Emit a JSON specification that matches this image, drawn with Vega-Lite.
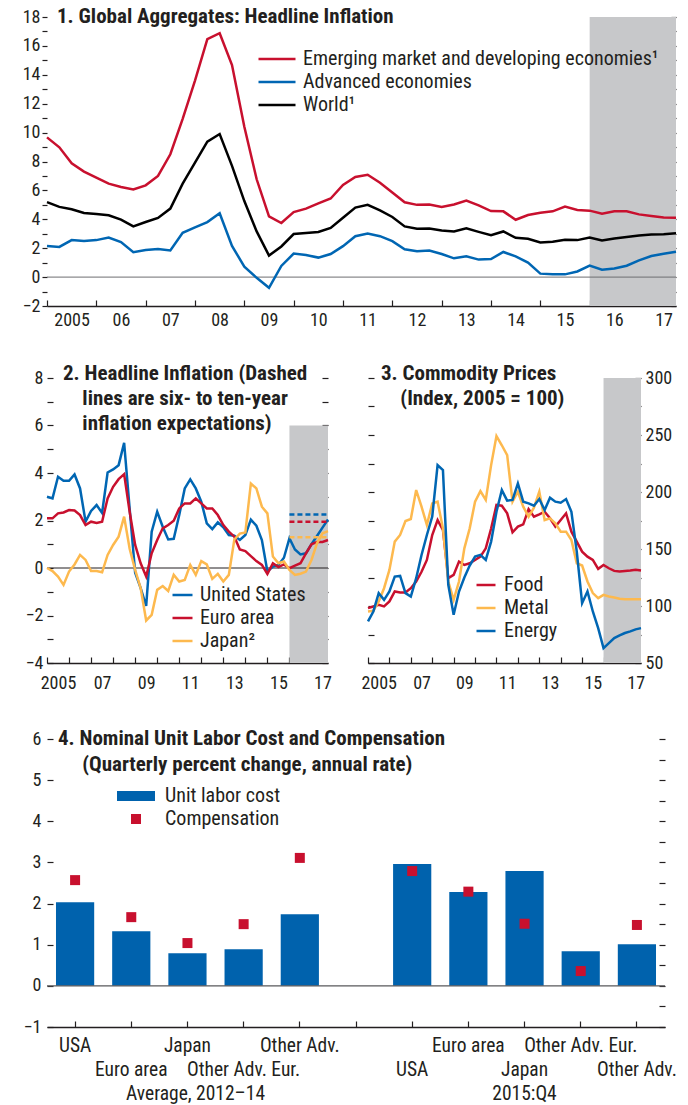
{
  "$schema": "https://vega.github.io/schema/vega-lite/v6.json",
  "padding": {"left": 22, "top": 6, "right": 5, "bottom": 5},
  "config": {
    "font": "Liberation Sans Narrow, Roboto Condensed, DejaVu Sans Condensed, sans-serif",
    "view": {"stroke": null},
    "axis": {"labelFontSize": 18, "labelColor": "#231f20", "tickColor": "#231f20", "domainColor": "#231f20", "grid": false, "tickWidth": 1.2, "labelFont": "Liberation Sans Narrow, Roboto Condensed, DejaVu Sans Condensed, sans-serif"},
    "legend": {"labelFontSize": 20, "labelColor": "#231f20", "labelLimit": 600, "labelFont": "Liberation Sans Narrow, Roboto Condensed, DejaVu Sans Condensed, sans-serif"},
    "title": {"fontSize": 21, "fontWeight": "bold", "color": "#231f20", "anchor": "start", "frame": "group", "baseline": "top", "font": "Liberation Sans Narrow, Roboto Condensed, DejaVu Sans Condensed, sans-serif"}
  },
  "datasets": {
    "p1": [
      {"t":2005,"EM":9.67,"AE":2.16,"W":5.19},{"t":2005.25,"EM":8.98,"AE":2.09,"W":4.86},{"t":2005.5,"EM":7.88,"AE":2.56,"W":4.7},{"t":2005.75,"EM":7.3,"AE":2.49,"W":4.44},
      {"t":2006,"EM":6.88,"AE":2.56,"W":4.37},{"t":2006.25,"EM":6.47,"AE":2.74,"W":4.28},{"t":2006.5,"EM":6.23,"AE":2.42,"W":3.98},{"t":2006.75,"EM":6.07,"AE":1.72,"W":3.51},
      {"t":2007,"EM":6.35,"AE":1.88,"W":3.81},{"t":2007.25,"EM":7.0,"AE":1.95,"W":4.09},{"t":2007.5,"EM":8.5,"AE":1.84,"W":4.74},{"t":2007.75,"EM":10.95,"AE":3.07,"W":6.47},
      {"t":2008,"EM":13.6,"AE":3.44,"W":7.93},{"t":2008.25,"EM":16.47,"AE":3.81,"W":9.37},{"t":2008.5,"EM":16.88,"AE":4.42,"W":9.9},{"t":2008.75,"EM":14.67,"AE":2.16,"W":7.7},
      {"t":2009,"EM":10.4,"AE":0.72,"W":5.26},{"t":2009.25,"EM":6.77,"AE":-0.05,"W":3.16},{"t":2009.5,"EM":4.2,"AE":-0.74,"W":1.49},{"t":2009.75,"EM":3.74,"AE":0.77,"W":2.12},
      {"t":2010,"EM":4.5,"AE":1.63,"W":2.98},{"t":2010.25,"EM":4.74,"AE":1.53,"W":3.05},{"t":2010.5,"EM":5.1,"AE":1.35,"W":3.12},{"t":2010.75,"EM":5.44,"AE":1.6,"W":3.4},
      {"t":2011,"EM":6.38,"AE":2.14,"W":4.11},{"t":2011.25,"EM":6.93,"AE":2.83,"W":4.81},{"t":2011.5,"EM":7.08,"AE":3.02,"W":5.0},{"t":2011.75,"EM":6.53,"AE":2.83,"W":4.62},
      {"t":2012,"EM":5.85,"AE":2.49,"W":4.16},{"t":2012.25,"EM":5.18,"AE":1.93,"W":3.51},{"t":2012.5,"EM":5.0,"AE":1.79,"W":3.35},{"t":2012.75,"EM":5.02,"AE":1.84,"W":3.37},
      {"t":2013,"EM":4.86,"AE":1.6,"W":3.23},{"t":2013.25,"EM":5.03,"AE":1.3,"W":3.16},{"t":2013.5,"EM":5.3,"AE":1.44,"W":3.37},{"t":2013.75,"EM":4.97,"AE":1.21,"W":3.13},
      {"t":2014,"EM":4.57,"AE":1.25,"W":2.9},{"t":2014.25,"EM":4.55,"AE":1.74,"W":3.16},{"t":2014.5,"EM":3.97,"AE":1.44,"W":2.72},{"t":2014.75,"EM":4.3,"AE":1.0,"W":2.65},
      {"t":2015,"EM":4.46,"AE":0.24,"W":2.39},{"t":2015.25,"EM":4.55,"AE":0.19,"W":2.44},{"t":2015.5,"EM":4.88,"AE":0.19,"W":2.58},{"t":2015.75,"EM":4.65,"AE":0.39,"W":2.56},
      {"t":2016,"EM":4.6,"AE":0.79,"W":2.74},{"t":2016.25,"EM":4.39,"AE":0.51,"W":2.53},{"t":2016.5,"EM":4.55,"AE":0.6,"W":2.67},{"t":2016.75,"EM":4.55,"AE":0.79,"W":2.78},
      {"t":2017,"EM":4.34,"AE":1.16,"W":2.88},{"t":2017.25,"EM":4.23,"AE":1.46,"W":2.95},{"t":2017.5,"EM":4.13,"AE":1.62,"W":2.97},{"t":2017.75,"EM":4.1,"AE":1.76,"W":3.03}
    ],
    "p2": [
      {"t":2005,"US":3.0,"EA":2.09,"JP":0.0},{"t":2005.25,"US":2.93,"EA":2.09,"JP":-0.13},{"t":2005.5,"US":3.84,"EA":2.3,"JP":-0.36},{"t":2005.75,"US":3.67,"EA":2.34,"JP":-0.71},
      {"t":2006,"US":3.67,"EA":2.44,"JP":-0.15},{"t":2006.25,"US":3.94,"EA":2.42,"JP":0.15},{"t":2006.5,"US":3.35,"EA":2.23,"JP":0.55},{"t":2006.75,"US":1.95,"EA":1.81,"JP":0.34},
      {"t":2007,"US":2.4,"EA":1.95,"JP":-0.13},{"t":2007.25,"US":2.65,"EA":1.9,"JP":-0.13},{"t":2007.5,"US":2.32,"EA":1.95,"JP":-0.18},{"t":2007.75,"US":4.02,"EA":2.93,"JP":0.55},
      {"t":2008,"US":4.15,"EA":3.42,"JP":0.97},{"t":2008.25,"US":4.33,"EA":3.74,"JP":1.32},{"t":2008.5,"US":5.27,"EA":3.95,"JP":2.16},{"t":2008.75,"US":2.5,"EA":2.37,"JP":0.81},
      {"t":2009,"US":-0.2,"EA":0.97,"JP":-0.08},{"t":2009.25,"US":-0.85,"EA":0.2,"JP":-0.85},{"t":2009.5,"US":-1.6,"EA":-0.36,"JP":-2.21},{"t":2009.75,"US":1.53,"EA":0.62,"JP":-1.97},
      {"t":2010,"US":2.37,"EA":1.18,"JP":-0.92},{"t":2010.25,"US":1.74,"EA":1.67,"JP":-0.76},{"t":2010.5,"US":1.2,"EA":1.81,"JP":-0.97},{"t":2010.75,"US":1.23,"EA":1.99,"JP":-0.29},
      {"t":2011,"US":2.23,"EA":2.51,"JP":-0.57},{"t":2011.25,"US":3.35,"EA":2.72,"JP":-0.5},{"t":2011.5,"US":3.73,"EA":2.72,"JP":0.13},{"t":2011.75,"US":3.35,"EA":2.93,"JP":-0.29},
      {"t":2012,"US":2.79,"EA":2.72,"JP":0.29},{"t":2012.25,"US":1.88,"EA":2.51,"JP":0.15},{"t":2012.5,"US":1.64,"EA":2.51,"JP":-0.46},{"t":2012.75,"US":1.92,"EA":2.23,"JP":-0.25},
      {"t":2013,"US":1.71,"EA":1.81,"JP":-0.57},{"t":2013.25,"US":1.39,"EA":1.53,"JP":-0.29},{"t":2013.5,"US":1.36,"EA":1.32,"JP":1.2},{"t":2013.75,"US":1.18,"EA":0.78,"JP":1.45},
      {"t":2014,"US":1.39,"EA":0.71,"JP":1.5},{"t":2014.25,"US":2.04,"EA":0.5,"JP":3.56},{"t":2014.5,"US":1.78,"EA":0.29,"JP":3.35},{"t":2014.75,"US":1.18,"EA":0.13,"JP":2.58},
      {"t":2015,"US":-0.15,"EA":-0.25,"JP":2.3},{"t":2015.25,"US":0.06,"EA":0.2,"JP":0.48},{"t":2015.5,"US":0.13,"EA":0.04,"JP":0.2},{"t":2015.75,"US":0.43,"EA":0.15,"JP":0.27},
      {"t":2016,"US":1.25,"EA":-0.01,"JP":-0.08},{"t":2016.25,"US":0.78,"EA":0.1,"JP":-0.29},{"t":2016.5,"US":0.57,"EA":0.2,"JP":-0.24},{"t":2016.75,"US":0.62,"EA":0.62,"JP":-0.15},
      {"t":2017,"US":1.0,"EA":1.0,"JP":0.34},{"t":2017.25,"US":1.35,"EA":1.1,"JP":1.04},{"t":2017.5,"US":1.7,"EA":1.1,"JP":1.46},{"t":2017.75,"US":2.04,"EA":1.18,"JP":1.55}
    ],
    "p2e": [
      {"s":"US","e":2.25},{"s":"EA","e":1.95},{"s":"JP","e":1.29}
    ],
    "p3": [
      {"t":2005,"Food":98.1,"Metal":95.2,"Energy":86.5},{"t":2005.25,"Food":99.6,"Metal":95.8,"Energy":95.2},{"t":2005.5,"Food":101,"Metal":104,"Energy":111.3},{"t":2005.75,"Food":99.6,"Metal":115.6,"Energy":105.4},
      {"t":2006,"Food":104,"Metal":131.7,"Energy":112.7},{"t":2006.25,"Food":112.7,"Metal":156.5,"Energy":125.8},{"t":2006.5,"Food":111.8,"Metal":162.3,"Energy":126.4},{"t":2006.75,"Food":111.8,"Metal":174.6,"Energy":111.3},
      {"t":2007,"Food":115.6,"Metal":176.3,"Energy":108.3},{"t":2007.25,"Food":121.5,"Metal":201.7,"Energy":124.4},{"t":2007.5,"Food":130,"Metal":187.1,"Energy":144.8},{"t":2007.75,"Food":140.4,"Metal":171.1,"Energy":162.3},
      {"t":2008,"Food":162.3,"Metal":190,"Energy":178.4},{"t":2008.25,"Food":175.4,"Metal":191.5,"Energy":223.6},{"t":2008.5,"Food":166.7,"Metal":168.1,"Energy":219.2},{"t":2008.75,"Food":124.4,"Metal":121.5,"Energy":118.6},
      {"t":2009,"Food":127.3,"Metal":105.4,"Energy":92.3},{"t":2009.25,"Food":139,"Metal":121.5,"Energy":112.7},{"t":2009.5,"Food":136,"Metal":150.6,"Energy":125},{"t":2009.75,"Food":137.5,"Metal":168.1,"Energy":135.5},
      {"t":2010,"Food":140.4,"Metal":191.5,"Energy":143.3},{"t":2010.25,"Food":143.3,"Metal":200.8,"Energy":144.8},{"t":2010.5,"Food":150.6,"Metal":193,"Energy":140.4},{"t":2010.75,"Food":168,"Metal":223.6,"Energy":156.5},
      {"t":2011,"Food":188.6,"Metal":249,"Energy":182.7},{"t":2011.25,"Food":188,"Metal":241,"Energy":201.7},{"t":2011.5,"Food":181.3,"Metal":232.3,"Energy":192.4},{"t":2011.75,"Food":164.6,"Metal":191.5,"Energy":193},
      {"t":2012,"Food":169.6,"Metal":200.2,"Energy":207.5},{"t":2012.25,"Food":171.6,"Metal":187.1,"Energy":191.5},{"t":2012.5,"Food":185,"Metal":178.4,"Energy":190},{"t":2012.75,"Food":178.4,"Metal":186.2,"Energy":188},
      {"t":2013,"Food":180.4,"Metal":200.2,"Energy":193.8},{"t":2013.25,"Food":182.7,"Metal":175.4,"Energy":184.2},{"t":2013.5,"Food":176.9,"Metal":176.9,"Energy":195},{"t":2013.75,"Food":169.6,"Metal":172.5,"Energy":191.5},
      {"t":2014,"Food":175.4,"Metal":165.2,"Energy":190.6},{"t":2014.25,"Food":181.3,"Metal":165.2,"Energy":193.8},{"t":2014.5,"Food":165.2,"Metal":157.9,"Energy":182.7},{"t":2014.75,"Food":156.5,"Metal":137.5,"Energy":147.7},
      {"t":2015,"Food":147.7,"Metal":135.5,"Energy":102.5},{"t":2015.25,"Food":143.3,"Metal":121.5,"Energy":112.7},{"t":2015.5,"Food":140.4,"Metal":111.3,"Energy":95.2},{"t":2015.75,"Food":132.6,"Metal":106.9,"Energy":80.6},
      {"t":2016,"Food":136,"Metal":109.8,"Energy":63.1},{"t":2016.25,"Food":133.1,"Metal":108.3,"Energy":67.5},{"t":2016.5,"Food":130.8,"Metal":107.5,"Energy":71.9},{"t":2016.75,"Food":130.2,"Metal":106.3,"Energy":74.2},
      {"t":2017,"Food":130.8,"Metal":106,"Energy":76.3},{"t":2017.25,"Food":131.1,"Metal":106,"Energy":77.7},{"t":2017.5,"Food":131.7,"Metal":106,"Energy":79.5},{"t":2017.75,"Food":131.1,"Metal":106,"Energy":80.6}
    ],
    "p4": [
      {"slot":"a1","country":"USA","period":"Average, 2012–14","Unit labor cost":2.03,"Compensation":2.57},
      {"slot":"a2","country":"Euro area","period":"Average, 2012–14","Unit labor cost":1.33,"Compensation":1.67},
      {"slot":"a3","country":"Japan","period":"Average, 2012–14","Unit labor cost":0.79,"Compensation":1.04},
      {"slot":"a4","country":"Other Adv. Eur.","period":"Average, 2012–14","Unit labor cost":0.89,"Compensation":1.5},
      {"slot":"a5","country":"Other Adv.","period":"Average, 2012–14","Unit labor cost":1.74,"Compensation":3.11},
      {"slot":"b1","country":"USA","period":"2015:Q4","Unit labor cost":2.96,"Compensation":2.79},
      {"slot":"b2","country":"Euro area","period":"2015:Q4","Unit labor cost":2.28,"Compensation":2.29},
      {"slot":"b3","country":"Japan","period":"2015:Q4","Unit labor cost":2.79,"Compensation":1.51},
      {"slot":"b4","country":"Other Adv. Eur.","period":"2015:Q4","Unit labor cost":0.84,"Compensation":0.36},
      {"slot":"b5","country":"Other Adv.","period":"2015:Q4","Unit labor cost":1.01,"Compensation":1.48}
    ]
  },
  "bounds": "flush",
  "spacing": 72,
  "resolve": {"scale": {"color": "independent", "shape": "independent"}},
  "vconcat": [
    {
      "width": 629,
      "height": 289,
      "title": {"text": "1. Global Aggregates: Headline Inflation", "offset": -19, "dx": 10},
      "layer": [
        {
          "data": {"values": [{}]},
          "mark": {"type": "rect", "color": "#c7c8ca"},
          "encoding": {
            "x": {"datum": 2016, "type": "quantitative", "scale": {"domain": [2005, 2017.75], "nice": false, "zero": false}, "axis": null},
            "x2": {"datum": 2017.75}
          }
        },
        {
          "data": {"values": [{}]},
          "mark": {"type": "rule", "color": "#6d6e71", "strokeWidth": 1},
          "encoding": {
            "y": {"datum": 0, "type": "quantitative", "scale": {"domain": [-2, 18], "nice": false, "zero": false},
              "axis": {"orient": "right", "labels": false, "domain": false, "values": [-2,-1,0,1,2,3,4,5,6,7,8,9,10,11,12,13,14,15,16,17,18], "tickSize": -5, "title": null}}
          }
        },
        {
          "data": {"name": "p1"},
          "transform": [{"fold": ["EM", "AE", "W"], "as": ["s", "v"]}],
          "mark": {"type": "line", "strokeWidth": 2.5},
          "encoding": {
            "x": {"field": "t", "type": "quantitative", "scale": {"domain": [2005, 2017.75], "nice": false, "zero": false},
              "axis": {"values": [2005,2006,2007,2008,2009,2010,2011,2012,2013,2014,2015,2016,2017], "format": "d",
                "labelExpr": "datum.value == 2005 ? datum.label : slice(datum.label, 2)",
                "labelOffset": 24.6, "labelFlush": false,
                "tickSize": -6, "labelPadding": 11, "domainWidth": 1.5, "title": null}},
            "y": {"field": "v", "type": "quantitative", "scale": {"domain": [-2, 18], "nice": false, "zero": false},
              "axis": {"values": [-2,-1,0,1,2,3,4,5,6,7,8,9,10,11,12,13,14,15,16,17,18],
                "labelExpr": "datum.value % 2 == 0 ? datum.label : ''", "domain": false, "tickSize": 5, "labelPadding": 2, "title": null}},
            "color": {"field": "s", "type": "nominal",
              "scale": {"domain": ["EM", "AE", "W"], "range": ["#c8102e", "#0066b3", "#000000"]},
              "legend": {"orient": "none", "legendX": 220, "legendY": 32, "title": null,
                "symbolType": "M-3.7,0H3.7", "symbolSize": 100, "symbolStrokeWidth": 2.5,
                "labelOffset": 16, "rowPadding": 3,
                "labelExpr": "datum.label == 'EM' ? 'Emerging market and developing economies¹' : datum.label == 'AE' ? 'Advanced economies' : 'World¹'"}}
          }
        }
      ],
      "resolve": {"axis": {"x": "independent", "y": "independent"}}
    },
    {
      "bounds": "flush",
      "spacing": 361,
      "resolve": {"scale": {"color": "independent", "shape": "independent"}},
      "vconcat": [
        {
          "bounds": "flush",
          "spacing": 40,
          "resolve": {"scale": {"color": "independent", "shape": "independent"}},
          "hconcat": [
            {
              "width": 281,
              "height": 285,
              "title": {"text": ["2. Headline Inflation (Dashed", "\u200b\u00a0\u00a0\u00a0\u00a0lines are six- to ten-year", "\u200b\u00a0\u00a0\u00a0\u00a0inflation expectations)"], "offset": -65, "dx": 16, "lineHeight": 25},
              "layer": [
                {
                  "data": {"values": [{}]},
                  "mark": {"type": "rect", "color": "#c7c8ca"},
                  "encoding": {
                    "x": {"datum": 2016, "type": "quantitative", "scale": {"domain": [2005, 2017.75], "nice": false, "zero": false}, "axis": null},
                    "x2": {"datum": 2017.75},
                    "y": {"datum": -4, "type": "quantitative", "scale": {"domain": [-4, 8], "nice": false, "zero": false}, "axis": null},
                    "y2": {"datum": 6}
                  }
                },
                {
                  "data": {"values": [{}]},
                  "mark": {"type": "rule", "color": "#231f20", "strokeWidth": 1},
                  "encoding": {
                    "y": {"datum": 0, "type": "quantitative", "scale": {"domain": [-4, 8], "nice": false, "zero": false},
                      "axis": {"orient": "right", "labels": false, "domain": false, "values": [-4,-3,-2,-1,0,1,2,3,4,5,6,7,8], "tickSize": -6, "title": null}}
                  }
                },
                {
                  "data": {"name": "p2"},
                  "transform": [{"fold": ["US", "EA", "JP"], "as": ["s", "v"]}],
                  "mark": {"type": "line", "strokeWidth": 2.5},
                  "encoding": {
                    "x": {"field": "t", "type": "quantitative", "scale": {"domain": [2005, 2017.75], "nice": false, "zero": false},
                      "axis": {"values": [2005,2006,2007,2008,2009,2010,2011,2012,2013,2014,2015,2016,2017], "format": "d",
                        "labelExpr": "datum.value % 2 == 1 ? (datum.value == 2005 ? datum.label : slice(datum.label, 2)) : ''",
                        "labelOffset": 11, "labelFlush": false,
                        "tickSize": -6, "labelPadding": 17, "domainWidth": 1.5, "title": null}},
                    "y": {"field": "v", "type": "quantitative", "scale": {"domain": [-4, 8], "nice": false, "zero": false},
                      "axis": {"values": [-4,-3,-2,-1,0,1,2,3,4,5,6,7,8],
                        "labelExpr": "datum.value % 2 == 0 ? datum.label : ''", "domain": false, "tickSize": -6, "labelPadding": 10, "title": null}},
                    "color": {"field": "s", "type": "nominal",
                      "scale": {"domain": ["US", "EA", "JP"], "range": ["#0066b3", "#c8102e", "#fdb94e"]},
                      "legend": {"orient": "none", "legendX": 125.5, "legendY": 207, "title": null,
                        "symbolType": "M-2,0H2", "symbolSize": 100, "symbolStrokeWidth": 2.5,
                        "labelOffset": 7.5, "rowPadding": 3,
                        "labelExpr": "datum.label == 'US' ? 'United States' : datum.label == 'EA' ? 'Euro area' : 'Japan²'"}}
                  }
                },
                {
                  "data": {"name": "p2e"},
                  "mark": {"type": "rule", "strokeWidth": 2.5, "strokeDash": [5, 3]},
                  "encoding": {
                    "x": {"datum": 2016, "type": "quantitative", "axis": null},
                    "x2": {"datum": 2017.75},
                    "y": {"field": "e", "type": "quantitative", "axis": null},
                    "color": {"field": "s", "type": "nominal", "legend": null}
                  }
                }
              ],
              "resolve": {"axis": {"x": "independent", "y": "independent"}}
            },
            {
              "width": 273,
              "height": 285,
              "title": {"text": ["3. Commodity Prices", "\u200b\u00a0\u00a0\u00a0\u00a0(Index, 2005 = 100)"], "offset": -40, "dx": 13, "lineHeight": 25},
              "layer": [
                {
                  "data": {"values": [{}]},
                  "mark": {"type": "rect", "color": "#c7c8ca"},
                  "encoding": {
                    "x": {"datum": 2016, "type": "quantitative", "scale": {"domain": [2005, 2017.75], "nice": false, "zero": false}, "axis": null},
                    "x2": {"datum": 2017.75},
                    "y": {"datum": 50, "type": "quantitative", "scale": {"domain": [50, 300], "nice": false, "zero": false},
                      "axis": {"orient": "left", "labels": false, "domain": false, "values": [50,75,100,125,150,175,200,225,250,275,300], "tickSize": -6, "title": null}},
                    "y2": {"datum": 300}
                  }
                },
                {
                  "data": {"name": "p3"},
                  "transform": [{"fold": ["Food", "Metal", "Energy"], "as": ["s", "v"]}],
                  "mark": {"type": "line", "strokeWidth": 2.5},
                  "encoding": {
                    "x": {"field": "t", "type": "quantitative", "scale": {"domain": [2005, 2017.75], "nice": false, "zero": false},
                      "axis": {"values": [2005,2006,2007,2008,2009,2010,2011,2012,2013,2014,2015,2016,2017], "format": "d",
                        "labelExpr": "datum.value % 2 == 1 ? (datum.value == 2005 ? datum.label : slice(datum.label, 2)) : ''",
                        "labelOffset": 10.7, "labelFlush": false,
                        "tickSize": -6, "labelPadding": 17, "domainWidth": 1.5, "title": null}},
                    "y": {"field": "v", "type": "quantitative", "scale": {"domain": [50, 300], "nice": false, "zero": false},
                      "axis": {"orient": "right", "values": [50,75,100,125,150,175,200,225,250,275,300],
                        "labelExpr": "datum.value % 50 == 0 ? datum.label : ''", "domain": false, "tickSize": -6, "labelPadding": 10, "title": null}},
                    "color": {"field": "s", "type": "nominal",
                      "scale": {"domain": ["Food", "Metal", "Energy"], "range": ["#c8102e", "#fdb94e", "#0066b3"]},
                      "legend": {"orient": "none", "legendX": 108, "legendY": 197, "title": null,
                        "symbolType": "M-1.9,0H1.9", "symbolSize": 100, "symbolStrokeWidth": 2.5,
                        "labelOffset": 8, "rowPadding": 3}}
                  }
                }
              ],
              "resolve": {"axis": {"x": "independent", "y": "independent"}}
            }
          ]
        },
        {
          "width": 618,
          "height": 288,
          "title": {"text": ["4. Nominal Unit Labor Cost and Compensation", "\u200b\u00a0\u00a0\u00a0\u00a0\u00a0(Quarterly percent change, annual rate)"], "offset": -45, "dx": 11, "lineHeight": 26},
          "layer": [
            {
              "data": {"name": "p4"},
              "transform": [{"fold": ["Unit labor cost", "Compensation"], "as": ["measure", "value"]}, {"filter": "datum.measure == 'Unit labor cost'"}],
              "mark": {"type": "bar", "color": "#0062ad"},
              "encoding": {
                "x": {"field": "slot", "type": "nominal",
                  "scale": {"domain": ["a1","a2","a3","a4","a5","gap","b1","b2","b3","b4","b5"], "paddingInner": 0.32, "paddingOuter": 0.16},
                  "axis": {"orient": "bottom", "labelAngle": 0, "tickSize": -6, "labelPadding": 15, "domainWidth": 1.5, "labelFontSize": 19.5,
                    "title": null,
                    "labelExpr": "datum.value == 'a1' ? 'USA' : datum.value == 'a3' ? 'Japan' : datum.value == 'a5' ? 'Other Adv.' : datum.value == 'b2' ? 'Euro area' : datum.value == 'b4' ? 'Other Adv. Eur.' : ''"}},
                "y": {"field": "value", "type": "quantitative", "scale": {"domain": [-1, 6], "nice": false, "zero": false},
                  "axis": {"values": [-1,-0.5,0,0.5,1,1.5,2,2.5,3,3.5,4,4.5,5,5.5,6], "format": "d",
                    "labelExpr": "datum.value % 1 == 0 ? datum.label : ''", "domain": false, "tickSize": -6, "labelPadding": 12, "title": null}},
                "color": {"field": "measure", "type": "nominal",
                  "scale": {"domain": ["Unit labor cost", "Compensation"], "range": ["#0062ad", "#c8102e"]},
                  "legend": {"orient": "none", "legendX": 79, "legendY": 47, "title": null, "labelOffset": 19, "rowPadding": 3, "symbolSize": 100}}
              }
            },
            {
              "data": {"name": "p4"},
              "transform": [{"fold": ["Unit labor cost", "Compensation"], "as": ["measure", "value"]}, {"filter": "datum.measure == 'Compensation'"}],
              "mark": {"type": "point", "filled": true, "opacity": 1, "size": 100},
              "encoding": {
                "x": {"field": "slot", "type": "nominal",
                  "axis": {"orient": "bottom", "labelAngle": 0, "tickSize": 0, "domain": false, "labelPadding": 33, "labelFontSize": 19.5, "labelLineHeight": 24,
                    "labelExpr": "datum.value == 'a2' ? 'Euro area' : datum.value == 'a4' ? 'Other Adv. Eur.' : datum.value == 'b1' ? 'USA' : datum.value == 'b3' ? ['Japan', '2015:Q4'] : datum.value == 'b5' ? 'Other Adv.' : ''",
                    "title": "Average, 2012–14", "titleX": 148, "titleY": 57, "titleBaseline": "top", "titleAlign": "center", "titleAnchor": "start",
                    "titleFontSize": 19.5, "titleFontWeight": "normal", "titleColor": "#231f20", "titlePadding": 0,
                    "titleFont": "Liberation Sans Narrow, Roboto Condensed, DejaVu Sans Condensed, sans-serif"}},
                "y": {"field": "value", "type": "quantitative", "axis": null},
                "color": {"field": "measure", "type": "nominal",
                  "scale": {"domain": ["Unit labor cost", "Compensation"], "range": ["#0062ad", "#c8102e"]},
                  "legend": {"orient": "none", "legendX": 79, "legendY": 47, "title": null, "labelOffset": 19, "rowPadding": 3, "symbolSize": 100}},
                "shape": {"field": "measure", "type": "nominal",
                  "scale": {"domain": ["Unit labor cost", "Compensation"], "range": ["M-3.8,-1H3.8V1H-3.8Z", "square"]},
                  "legend": {"orient": "none", "legendX": 79, "legendY": 47, "title": null, "labelOffset": 19, "rowPadding": 3, "symbolSize": 100}}
              }
            },
            {
              "data": {"values": [{}]},
              "mark": {"type": "rule", "color": "#58595b", "strokeWidth": 1.3},
              "encoding": {
                "y": {"datum": 0, "type": "quantitative", "scale": {"domain": [-1, 6], "nice": false, "zero": false},
                  "axis": {"orient": "right", "labels": false, "domain": false, "values": [-1,-0.5,0,0.5,1,1.5,2,2.5,3,3.5,4,4.5,5,5.5,6], "tickSize": -6, "title": null}}
              }
            }
          ],
          "resolve": {"axis": {"x": "independent", "y": "independent"}}
        }
      ]
    }
  ]
}
